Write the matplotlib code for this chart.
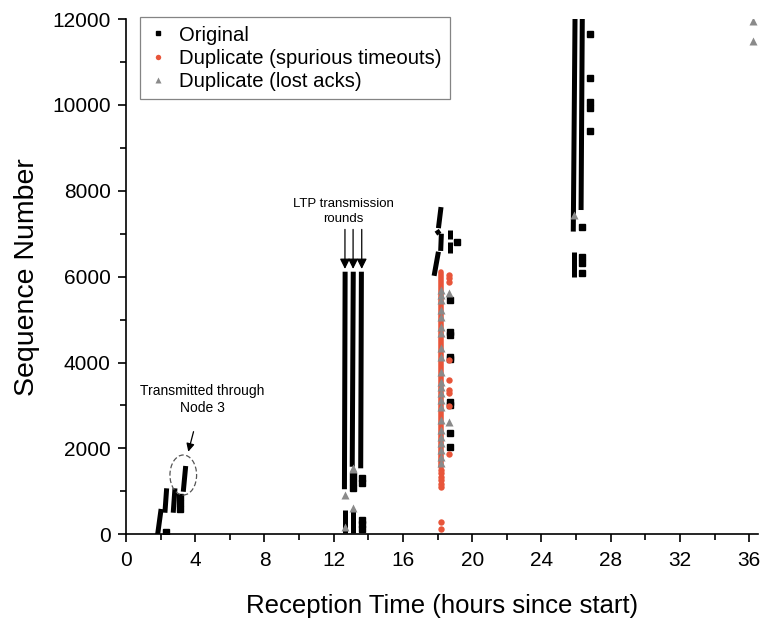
import matplotlib
matplotlib.use("Agg")
import matplotlib.pyplot as plt
from matplotlib.patches import Ellipse

plt.rcParams['font.family'] = ['Liberation Sans', 'DejaVu Sans']

# ---- data -------------------------------------------------------------
# Continuous runs of original transmissions: (t_start, seq_start, t_end, seq_end)
original_runs = [
    (1.83, 0, 2.03, 590),
    (2.25, 503, 2.35, 1071),
    (2.73, 503, 2.83, 1071),
    (3.31, 992, 3.45, 1591),
    (12.62, 1050, 12.66, 6115),
    (13.07, 1574, 13.13, 6115),
    (13.56, 1537, 13.60, 6115),
    (12.65, 20, 12.65, 566),
    (13.13, 20, 13.13, 590),
    (18.20, 7620, 18.05, 7130),
    (17.95, 7080, 18.10, 6990),
    (18.22, 7000, 18.18, 6600),
    (18.05, 6580, 17.80, 6020),
    (18.69, 7090, 18.69, 6870),
    (18.69, 6810, 18.69, 6545),
    (25.94, 12000, 25.84, 7050),
    (26.36, 12000, 26.29, 7552),
    (25.90, 6581, 25.90, 5999),
]
# Continuous run of duplicates caused by spurious timeouts
spurious_runs = [
    (18.17, 1574, 18.17, 6116),
]

# Isolated original packets
orig_t = [2.29, 3.12, 3.12, 3.12,
          13.13, 13.13, 13.13, 13.65, 13.65,
          13.65, 13.65, 13.65,
          19.14, 18.69, 18.69, 18.69, 18.69, 18.69, 18.69, 18.69, 18.69, 18.69,
          26.36, 26.36, 26.36, 26.36,
          26.80, 26.80, 26.80, 26.80, 26.80]
orig_s = [60, 876, 736, 589,
          1358, 1211, 1071, 1320, 1200,
          340, 230, 120,
          6814, 5457, 4720, 4650, 4140, 4075, 3090, 3010, 2352, 2040,
          7163, 6450, 6310, 6080,
          11651, 10633, 10075, 9921, 9392]

# Isolated duplicates (spurious timeouts)
spur_t = [18.17, 18.17, 18.17, 18.17, 18.17, 18.17, 18.17, 18.17,
          18.68, 18.68, 18.68, 18.68, 18.68, 18.68, 18.68, 18.68, 18.68]
spur_s = [1500, 1420, 1340, 1260, 1180, 1100, 279, 123,
          6040, 5960, 5880, 4060, 3590, 3360, 3280, 2990, 1880]

# Duplicates (lost acks)
lost_t = [12.65, 12.65, 13.13, 13.13, 13.13,
          18.17, 18.17, 18.17, 18.17, 18.17, 18.17, 18.17, 18.17, 18.17, 18.17,
          18.17, 18.17, 18.17, 18.17, 18.17, 18.17, 18.17, 18.17, 18.17, 18.17,
          18.17, 18.17,
          18.68, 18.68, 25.88, 36.24, 36.24]
lost_s = [915, 177, 1514, 605, 1550,
          5689, 5573, 5457, 5224, 5068, 4835, 4681, 4332, 4136, 3787,
          3554, 3438, 3284, 3128, 2973, 2662, 2429, 2274, 2119, 1963,
          1807, 1653,
          5612, 2608, 7436, 11950, 11480]

round_times = [12.65, 13.12, 13.62]

x_ticks = [0, 4, 8, 12, 16, 20, 24, 28, 32, 36]
y_ticks = [0, 2000, 4000, 6000, 8000, 10000, 12000]

RED = '#E8553A'
GRAY = '#8A8A8A'

# ---- figure -----------------------------------------------------------
fig = plt.figure(figsize=(7.63, 6.19), dpi=100)
ax = fig.add_axes([0.1651, 0.1368, 0.8281, 0.8325])

for t0, s0, t1, s1 in original_runs:
    ax.plot([t0, t1], [s0, s1], color='black', lw=3.6,
            solid_capstyle='butt', zorder=2)
for t0, s0, t1, s1 in spurious_runs:
    ax.plot([t0, t1], [s0, s1], color=RED, lw=4.0,
            solid_capstyle='round', zorder=2)

ax.plot(orig_t, orig_s, ls='none', marker='s', ms=4.2, color='black',
        label='Original', zorder=3)
ax.plot(spur_t, spur_s, ls='none', marker='o', ms=4.6, color=RED,
        mec='none', label='Duplicate (spurious timeouts)', zorder=3)
ax.plot(lost_t, lost_s, ls='none', marker='^', ms=5.4, color=GRAY,
        mec='none', label='Duplicate (lost acks)', zorder=4)

# highlighted group sent through Node 3
ax.add_patch(Ellipse((3.31, 1381), 1.54, 932, fill=False, ls=(0, (4, 2)),
                     lw=0.9, ec='#555555', zorder=5))
ax.annotate('Transmitted through\nNode 3', xy=(3.60, 1924), xytext=(4.39, 3139),
            ha='center', va='center', fontsize=10, linespacing=1.35,
            arrowprops=dict(arrowstyle='-|>', color='black', lw=0.9,
                            mutation_scale=12, shrinkA=10, shrinkB=0))

# transmission round markers
ax.text(12.55, 7200, 'LTP transmission\nrounds', ha='center', va='bottom',
        fontsize=9.5, linespacing=1.35)
for t in round_times:
    ax.annotate('', xy=(t, 6180), xytext=(t, 7100),
                arrowprops=dict(arrowstyle='-|>', color='black', lw=0.9,
                                mutation_scale=15, shrinkA=0, shrinkB=0))

ax.set_xlim(0, 36.5)
ax.set_ylim(0, 12000)
ax.set_xticks(x_ticks)
ax.set_yticks(y_ticks)
ax.set_xticks([2, 6, 10, 14, 18, 22, 26, 30, 34], minor=True)
ax.set_yticks([1000, 3000, 5000, 7000, 9000, 11000], minor=True)
ax.tick_params(which='major', direction='out', length=6, width=1.2,
               labelsize=15)
ax.tick_params(axis='x', which='major', pad=6)
ax.tick_params(axis='y', which='major', pad=5)
ax.tick_params(which='minor', direction='out', length=4, width=1.2)
for side in ('top', 'right'):
    ax.spines[side].set_visible(False)
for side in ('left', 'bottom'):
    ax.spines[side].set_linewidth(1.2)

ax.set_xlabel('Reception Time (hours since start)', fontsize=18.5, labelpad=17)
ax.set_ylabel('Sequence Number', fontsize=20.5, labelpad=9)

leg = ax.legend(loc='upper left', bbox_to_anchor=(0.022, 1.003),
                fontsize=14.6, frameon=True, fancybox=False,
                handlelength=1.0, handletextpad=0.55, borderpad=0.4,
                labelspacing=0.2, borderaxespad=0, markerscale=0.85)
leg.get_frame().set_edgecolor('#666666')
leg.get_frame().set_linewidth(0.9)

fig.savefig('out.png', dpi=100)
